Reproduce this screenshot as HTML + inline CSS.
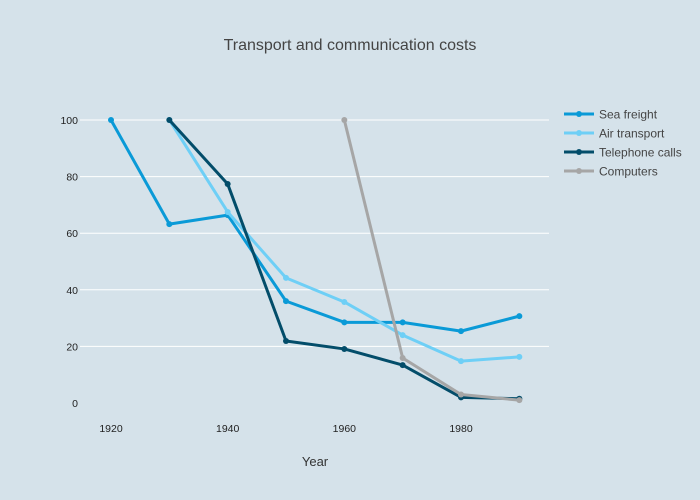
<!DOCTYPE html>
<html><head><meta charset="utf-8"><style>
body{margin:0;background:#d5e2ea;}
svg{display:block;font-family:"Liberation Sans","DejaVu Sans",sans-serif;}
</style></head><body>
<svg id="c" width="700" height="500">
<rect width="700" height="500" fill="#d5e2ea"/>
<text x="350" y="50" text-anchor="middle" font-size="16" fill="#444">Transport and communication costs</text>
<g id="grid"></g><g id="series"></g><g id="legend"></g>
<text x="315" y="466" text-anchor="middle" font-size="13" fill="#333">Year</text>
</svg>
<script>
const years=[1920,1930,1940,1950,1960,1970,1980,1990];
const names=["Sea freight","Air transport","Telephone calls","Computers"];
const colors=["#0a9ad7","#6ecff6","#034d6a","#a6a6a6"];
const seaFreight=[100,63.2,66.4,36,28.5,28.5,25.4,30.7];
const airTransport=[null,100,67.5,44.2,35.7,24,14.8,16.3];
const telephoneCalls=[null,100,77.4,21.9,19.1,13.4,2,1.5];
const computers=[null,null,null,null,100,15.9,3,1];
const xTicks=[1920,1940,1960,1980];
const yTicks=[0,20,40,60,80,100];
const allSeries=[seaFreight,airTransport,telephoneCalls,computers];
const NS="http://www.w3.org/2000/svg";
const X=v=>111+(v-1920)*35/6;
const Y=v=>403-v*2.83;
function mk(t,a,p){const e=document.createElementNS(NS,t);for(const k in a)e.setAttribute(k,a[k]);p.appendChild(e);return e;}
const g=document.getElementById('grid');
yTicks.forEach(t=>{
 if(t>0){const l=mk('line',{x1:80,x2:549,y1:Y(t),y2:Y(t),stroke:'#fff','stroke-width':1},g);
 
 }
 const tx=mk('text',{x:78,y:Y(t)+4,'text-anchor':'end','font-size':10.5,fill:'#222'},g);tx.textContent=t;
 
 
});
xTicks.forEach(t=>{
 const tx=mk('text',{x:X(t),y:432,'text-anchor':'middle','font-size':10.5,fill:'#222'},g);tx.textContent=t;
 
 
});
const s=document.getElementById('series');
allSeries.forEach((d,i)=>{
 const gg=mk('g',{},s);
 
 
 const pts=[];d.forEach((v,j)=>{if(v!=null)pts.push([X(years[j]),Y(v)]);});
 mk('polyline',{points:pts.map(p=>p.join(',')).join(' '),fill:'none',stroke:colors[i],'stroke-width':3,'stroke-linejoin':'round'},gg);
 pts.forEach(p=>{const c=mk('circle',{cx:p[0],cy:p[1],r:3,fill:colors[i]},gg);
  
  });
});
const lg=document.getElementById('legend');
names.forEach((n,i)=>{
 const y=114+i*19;
 const e=mk('g',{},lg);
 
 
 mk('line',{x1:564,x2:594,y1:y,y2:y,stroke:colors[i],'stroke-width':3},e);
 mk('circle',{cx:579,cy:y,r:3,fill:colors[i]},e);
 const t=mk('text',{x:599,y:y+4.5,'font-size':12,fill:'#444'},e);t.textContent=n;
});
</script>
</body></html>
